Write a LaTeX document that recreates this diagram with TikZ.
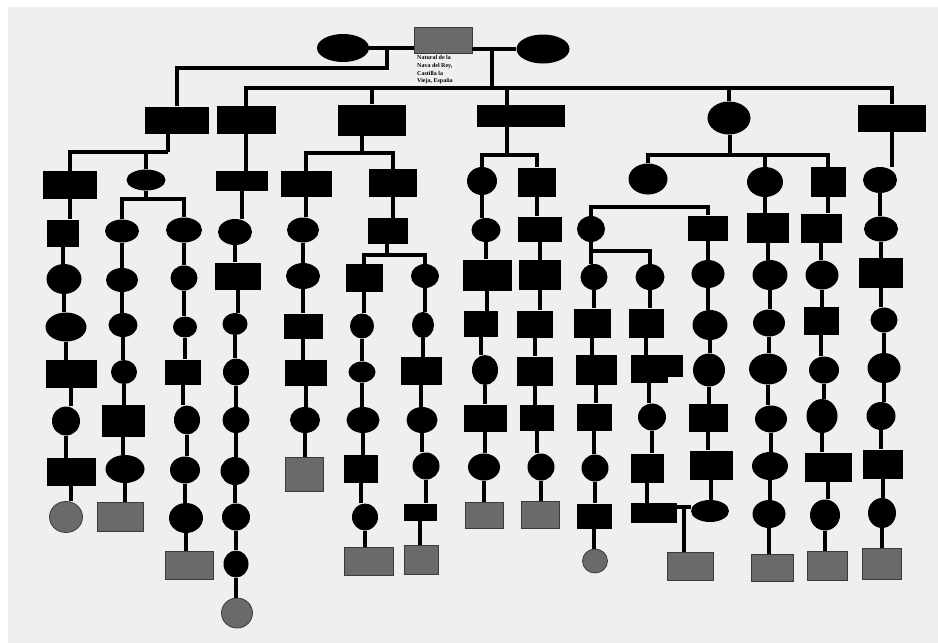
\documentclass[tikz,border=0pt]{standalone}
\usepackage{fontspec}
\setmainfont{Liberation Serif}
\usetikzlibrary{shapes.geometric}
\definecolor{bgc}{HTML}{EFEFEF}
\definecolor{gfill}{HTML}{6A6A6A}
\definecolor{gedge}{HTML}{3A3A3A}
\tikzset{
  R/.style 2 args={rectangle, fill=black, inner sep=0pt, minimum width=#1, minimum height=#2},
  O/.style 2 args={ellipse, fill=black, inner sep=0pt, minimum width=#1, minimum height=#2},
  GR/.style 2 args={rectangle, fill=gfill, draw=gedge, line width=0.8pt, inner sep=0pt, minimum width=#1, minimum height=#2},
  GO/.style 2 args={ellipse, fill=gfill, draw=gedge, line width=0.8pt, inner sep=0pt, minimum width=#1, minimum height=#2},
  ln/.style={line width=3.1pt, black},
  lbl/.style={font=\fontsize{6}{7.6}\selectfont\bfseries, align=left, inner sep=0pt, anchor=north west}
}
\begin{document}
\begin{tikzpicture}[x=1pt,y=-1pt]
\useasboundingbox (0,0) rectangle (938,643);
\fill[white] (0,0) rectangle (938,643);
\fill[bgc] (8,7) rectangle (938,643);

% ---- top generation
\node[O={52}{28}] (P1) at (343,48) {};
\node[GR={58}{26}] (P0) at (443,40) {};
\node[O={53}{29}] (P2) at (543,49) {};
\node[lbl] (T) at (417,55.5) {Natural de la\\Nava del Rey,\\Castilla la\\Vieja, España};

% ---- row 1
\node[R={64}{27}] (t1) at (177,120) {};
\node[R={59}{28}] (d1) at (246,120) {};
\node[R={68}{31}] (t3) at (372,120) {};
\node[R={88}{22}] (t4) at (521,116) {};
\node[O={43}{33}] (t5) at (729,118) {};
\node[R={68}{27}] (u1) at (892,118) {};

% ---- row 2
\node[R={54}{28}] (a2) at (70,185) {};
\node[O={39}{21}] (q2) at (146,180) {};
\node[R={52}{20}] (d2) at (242,181) {};
\node[R={51}{26}] (e2) at (306,184) {};
\node[R={48}{28}] (f2) at (393,183) {};
\node[O={30}{28}] (i2) at (482,181) {};
\node[R={38}{29}] (j2) at (537,182) {};
\node[O={39}{31}] (k2) at (648,179) {};
\node[O={36}{30}] (r2) at (765,182) {};
\node[R={35}{30}] (s2) at (828,182) {};
\node[O={34}{26}] (u2) at (880,180) {};

% ---- row 3
\node[R={32}{27}] (a3) at (63,233) {};
\node[O={34}{23}] (b3) at (122,231) {};
\node[O={36}{25}] (c3) at (184,230) {};
\node[O={34}{26}] (d3) at (235,232) {};
\node[O={32}{25}] (e3) at (303,230) {};
\node[R={40}{26}] (f3) at (388,231) {};
\node[O={29}{24}] (i3) at (486,230) {};
\node[R={44}{25}] (j3) at (540,229) {};
\node[O={28}{26}] (l3) at (591,229) {};
\node[R={40}{25}] (o3) at (708,228) {};
\node[R={42}{30}] (r3) at (768,228) {};
\node[R={41}{29}] (s3) at (821,228) {};
\node[O={34}{25}] (u3) at (881,229) {};

% ---- row 4
\node[O={35}{30}] (a4) at (64,279) {};
\node[O={32}{24}] (b4) at (122,280) {};
\node[O={27}{25}] (c4) at (184,278) {};
\node[R={46}{27}] (d4) at (238,276) {};
\node[O={34}{26}] (e4) at (303,276) {};
\node[R={37}{28}] (g4) at (364,278) {};
\node[O={28}{24}] (h4) at (425,276) {};
\node[R={49}{31}] (i4) at (487,275) {};
\node[R={42}{30}] (j4) at (540,275) {};
\node[O={27}{26}] (m4) at (594,277) {};
\node[O={29}{26}] (n4) at (650,277) {};
\node[O={33}{28}] (o4) at (708,274) {};
\node[O={35}{30}] (r4) at (770,275) {};
\node[O={33}{29}] (s4) at (822,275) {};
\node[R={44}{30}] (u4) at (881,273) {};

% ---- row 5
\node[O={41}{29}] (a5) at (66,327) {};
\node[O={29}{24}] (b5) at (123,325) {};
\node[O={24}{21}] (c5) at (185,327) {};
\node[O={25}{22}] (d5) at (235,324) {};
\node[R={39}{25}] (e5) at (303,326) {};
\node[O={24}{25}] (g5) at (362,326) {};
\node[O={22}{26}] (h5) at (423,325) {};
\node[R={34}{26}] (i5) at (481,324) {};
\node[R={36}{27}] (j5) at (535,324) {};
\node[R={37}{29}] (m5) at (592,323) {};
\node[R={35}{29}] (n5) at (646,323) {};
\node[O={35}{30}] (o5) at (710,325) {};
\node[O={32}{27}] (r5) at (769,323) {};
\node[R={35}{28}] (s5) at (821,321) {};
\node[O={27}{25}] (u5) at (884,320) {};

% ---- row 6
\node[R={51}{28}] (a6) at (71,374) {};
\node[O={26}{24}] (b6) at (124,372) {};
\node[R={36}{25}] (c6) at (183,372) {};
\node[O={26}{27}] (d6) at (236,372) {};
\node[R={42}{26}] (e6) at (306,373) {};
\node[O={27}{21}] (g6) at (362,372) {};
\node[R={41}{28}] (h6) at (421,371) {};
\node[O={26}{30}] (i6) at (485,370) {};
\node[R={36}{29}] (j6) at (535,371) {};
\node[R={41}{30}] (m6) at (596,370) {};
\node[R={37}{28}] (n6) at (649,369) {};
\node[R={34}{22}] (n6x) at (666,366) {};
\node[O={32}{33}] (o6) at (709,370) {};
\node[O={38}{31}] (r6) at (768,369) {};
\node[O={30}{27}] (s6) at (824,370) {};
\node[O={33}{30}] (u6) at (884,368) {};

% ---- row 7
\node[O={28}{29}] (a7) at (66,421) {};
\node[R={43}{32}] (b7) at (123,421) {};
\node[O={26}{29}] (c7) at (187,420) {};
\node[O={27}{26}] (d7) at (236,420) {};
\node[O={30}{26}] (e7) at (305,420) {};
\node[O={33}{26}] (g7) at (363,420) {};
\node[O={31}{26}] (h7) at (422,420) {};
\node[R={43}{27}] (i7) at (485,418) {};
\node[R={34}{26}] (j7) at (537,418) {};
\node[R={35}{27}] (m7) at (594,417) {};
\node[O={28}{27}] (n7) at (652,417) {};
\node[R={39}{28}] (o7) at (708,418) {};
\node[O={32}{27}] (r7) at (771,419) {};
\node[O={31}{34}] (s7) at (822,416) {};
\node[O={29}{28}] (u7) at (881,416) {};

% ---- row 8
\node[R={49}{28}] (a8) at (71,472) {};
\node[O={39}{28}] (b8) at (125,469) {};
\node[O={30}{27}] (c8) at (185,470) {};
\node[O={29}{28}] (d8) at (235,471) {};
\node[GR={38}{34}] (e8) at (304,474) {};
\node[R={34}{28}] (g8) at (361,469) {};
\node[O={27}{27}] (h8) at (426,466) {};
\node[O={32}{27}] (i8) at (484,467) {};
\node[O={27}{27}] (j8) at (541,467) {};
\node[O={27}{27}] (m8) at (595,468) {};
\node[R={33}{29}] (n8) at (647,468) {};
\node[R={43}{29}] (o8) at (711,465) {};
\node[O={36}{28}] (r8) at (770,466) {};
\node[R={47}{29}] (s8) at (828,467) {};
\node[R={40}{29}] (u8) at (883,464) {};

% ---- row 9
\node[GO={33}{31}] (a9) at (66,517) {};
\node[GR={46}{29}] (b9) at (120,517) {};
\node[O={34}{30}] (c9) at (186,518) {};
\node[O={28}{27}] (d9) at (236,517) {};
\node[O={26}{27}] (g9) at (365,517) {};
\node[R={33}{17}] (h9) at (420,512) {};
\node[GR={38}{26}] (i9) at (484,515) {};
\node[GR={38}{27}] (j9) at (540,515) {};
\node[R={35}{25}] (m9) at (594,516) {};
\node[R={46}{20}] (n9) at (654,513) {};
\node[O={38}{22}] (o9) at (710,511) {};
\node[O={33}{28}] (r9) at (769,514) {};
\node[O={30}{31}] (s9) at (825,515) {};
\node[O={28}{30}] (u9) at (882,513) {};

% ---- row 10
\node[GR={48}{28}] (c10) at (189,565) {};
\node[O={25}{27}] (d10) at (236,564) {};
\node[GR={49}{28}] (g10) at (369,561) {};
\node[GR={34}{29}] (h10) at (421,560) {};
\node[GO={25}{24}] (m10) at (595,561) {};
\node[GR={46}{28}] (w10) at (690,566) {};
\node[GR={42}{27}] (r10) at (772,568) {};
\node[GR={40}{29}] (s10) at (827,566) {};
\node[GR={39}{31}] (u10) at (882,564) {};

% ---- row 11
\node[GO={31}{30}] (d11) at (237,613) {};

% ---- connectors: top
\coordinate (jL) at (387,68);
\coordinate (jR) at (492,88);
\draw[ln] (P1.east) -- (P1.east -| P0.west);
\draw[ln] (P0.east |- P2.west) -- (P2.west);
\draw[ln] (jL |- P1.east) -- (jL) -| (t1.north);
\draw[ln] (jR |- P2.west) -- (jR);
\draw[ln] (d1.north) |- (u1.north |- jR) -- (u1.north);
\draw[ln] (t3.north) -- (t3.north |- jR);
\coordinate (jD) at (507,88);
\draw[ln] (jD) -- (jD |- t4.north);
\draw[ln] (t5.north) -- (t5.north |- jR);

% ---- branch junctions
\coordinate (ja) at (168,152);
\draw[ln] (ja |- t1.south) -- (ja);
\draw[ln] (a2.north) |- (ja);
\draw[ln] (q2.north) -- (q2.north |- ja);
\coordinate (jq) at (146,199);
\draw[ln] (q2.south) -- (jq);
\draw[ln] (b3.north) |- (c3.north |- jq) -- (c3.north);
\coordinate (jc) at (362,153);
\draw[ln] (jc |- t3.south) -- (jc);
\draw[ln] (e2.north) |- (f2.north |- jc) -- (f2.north);
\coordinate (jf) at (387,255);
\draw[ln] (jf |- f3.south) -- (jf);
\draw[ln] (g4.north) |- (h4.north |- jf) -- (h4.north);
\coordinate (jd) at (507,155);
\draw[ln] (jd |- t4.south) -- (jd);
\draw[ln] (i2.north) |- (j2.north |- jd) -- (j2.north);
\coordinate (je) at (730,155);
\draw[ln] (je |- t5.south) -- (je);
\draw[ln] (k2.north) |- (s2.north |- je) -- (s2.north);
\draw[ln] (r2.north) -- (r2.north |- je);
\coordinate (jk) at (650,207);
\draw[ln] (l3.north) |- (o3.north |- jk) -- (o3.north);
\coordinate (jl) at (593,251);
\draw[ln] (l3.south) -- (l3.south |- m4.north);
\draw[ln] (l3.south |- jl) -| (n4.north);
\coordinate (jm) at (684,507);
\draw[ln] (n9.east |- jm) -- (o9.west |- jm);
\draw[ln] (jm) -- (jm |- w10.north);

% ---- vertical chains
\foreach \c/\l in {a/{2,...,8}, b/{3,...,8}, c/{3,...,9}, d/{1,...,10},
                   e/{2,...,7}, f/{2}, g/{4,...,9}, h/{4,...,9},
                   i/{2,...,8}, j/{2,...,8}, m/{4,...,9}, n/{4,...,8},
                   o/{3,...,8}, r/{2,...,9}, s/{2,...,9}, u/{1,...,9}}{
  \foreach \i in \l {
    \pgfmathtruncatemacro\nx{\i+1}
    \draw[ln] (\c\i.south) -- (\c\i.south |- \c\nx.north);
  }
}
\end{tikzpicture}
\end{document}
